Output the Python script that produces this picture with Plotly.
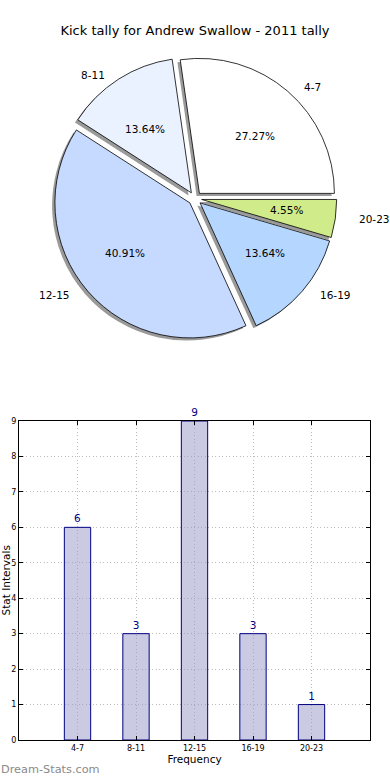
import math
import plotly.graph_objects as go

# ---- data ----
categories = ["4-7", "8-11", "12-15", "16-19", "20-23"]
counts = [6, 3, 9, 3, 1]
pie_colors = ["#ffffff", "#eaf2ff", "#c6d9ff", "#b4d6ff", "#cfeb8a"]
title_text = "Kick tally for Andrew Swallow - 2011 tally"
y_ticks = [0, 1, 2, 3, 4, 5, 6, 7, 8, 9]

W, H = 390, 780
FONT = "DejaVu Sans"


def fx(px):  # pixel x -> paper fraction
    return px / W


def fy(py):  # pixel y -> paper fraction
    return 1 - py / H


# ---- pie geometry (pixels) ----
cx, cy = 195.0, 198.5
r = 135.0
pull = 0.05
box = 2 * r * (1 + pull)
shadow_dx, shadow_dy = -2.8, 2.6
# text placement radii (original chart was drawn slightly wider than tall)
rx_txt, ry_txt = 142.0, 128.0

total = sum(counts)
# plotly: for counterclockwise pies `rotation` marks the clockwise edge of the
# first slice, measured clockwise from 12 o'clock -> first slice starts at 3 o'clock
rotation = 90 - 360 * counts[0] / total


def dom(cxp, cyp):
    return dict(
        x=[fx(cxp - box / 2), fx(cxp + box / 2)],
        y=[fy(cyp + box / 2), fy(cyp - box / 2)],
    )


fig = go.Figure()

# shadow
fig.add_trace(go.Pie(
    labels=categories, values=counts, sort=False, direction="counterclockwise",
    rotation=rotation, pull=[pull] * len(counts),
    marker=dict(colors=["#9a9a9a"] * len(counts), line=dict(width=0)),
    textinfo="none", hoverinfo="skip", showlegend=False,
    domain=dom(cx + shadow_dx, cy + shadow_dy),
))
# main pie
fig.add_trace(go.Pie(
    labels=categories, values=counts, sort=False, direction="counterclockwise",
    rotation=rotation, pull=[pull] * len(counts),
    marker=dict(colors=pie_colors, line=dict(color="black", width=0.8)),
    textinfo="none", showlegend=False,
    domain=dom(cx, cy),
))

# labels & percentages (matplotlib-style placement, from data)
annotations = []
cum = 0.0
for lab, v in zip(categories, counts):
    frac = v / total
    theta = 2 * math.pi * (cum + frac / 2)
    cum += frac
    c, s = math.cos(theta), math.sin(theta)
    lx = cx + (1.1 + pull) * rx_txt * c
    ly = cy - (1.1 + pull) * ry_txt * s
    annotations.append(dict(
        x=fx(lx), y=fy(ly), xref="paper", yref="paper", text=lab,
        showarrow=False, xanchor="left" if c > 0 else "right", yanchor="middle",
        font=dict(family=FONT, size=10.5, color="black"),
    ))
    px = cx + (0.6 + pull) * rx_txt * c
    py = cy - (0.6 + pull) * ry_txt * s
    annotations.append(dict(
        x=fx(px), y=fy(py), xref="paper", yref="paper",
        text=f"{100 * frac:.2f}%", showarrow=False,
        xanchor="center", yanchor="middle",
        font=dict(family=FONT, size=10.5, color="black"),
    ))

# y axis title (kept fully visible at the left edge)
annotations.append(dict(
    x=fx(5.5), y=fy(581), xref="paper", yref="paper", text="Stat Intervals",
    showarrow=False, textangle=-90, xanchor="center", yanchor="middle",
    font=dict(family=FONT, size=10.5, color="black"),
))

# watermark
annotations.append(dict(
    x=0, y=fy(769), xref="paper", yref="paper", text="Dream-Stats.com",
    showarrow=False, xanchor="left", yanchor="middle", xshift=-1,
    font=dict(family=FONT, size=11.3, color="#8a8a8a"),
))

# ---- bar chart ----
fig.add_trace(go.Bar(
    x=categories, y=counts, width=0.45,
    marker=dict(color="rgba(150,150,200,0.5)", line=dict(color="#000080", width=1)),
    text=[str(v) for v in counts], textposition="outside",
    textfont=dict(family=FONT, size=10.5, color="#000080"),
    cliponaxis=False, showlegend=False,
    xaxis="x", yaxis="y",
))

axis_common = dict(
    showline=True, linecolor="black", linewidth=1, mirror="ticks",
    ticks="inside", ticklen=4, tickcolor="black",
    showgrid=True, gridcolor="#bdbdbd", griddash="1px,2.5px", gridwidth=1,
    zeroline=False, automargin=False,
    tickfont=dict(family=FONT, size=8, color="black"),
)

fig.update_layout(
    width=W, height=H,
    margin=dict(l=0, r=0, t=0, b=0),
    paper_bgcolor="white", plot_bgcolor="white",
    title=dict(text=title_text, x=0.5, xanchor="center", y=fy(30),
               yanchor="middle", xref="paper",
               font=dict(family=FONT, size=13, color="black")),
    xaxis=dict(
        domain=[fx(19), fx(370)], type="category", range=[-1, 5],
        title=dict(text="Frequency", standoff=2,
                   font=dict(family=FONT, size=10.5, color="black")),
        **axis_common,
    ),
    yaxis=dict(
        domain=[fy(740), fy(421)], range=[0, 9],
        tickvals=y_ticks,
        **axis_common,
    ),
    annotations=annotations,
    font=dict(family=FONT),
)

# let the 390x780 figure fill the 390x780 window (no default 8px page margin)
fig.write_html("out.html",
               config={"displayModeBar": False},
               post_script="document.body.style.margin='0';")
